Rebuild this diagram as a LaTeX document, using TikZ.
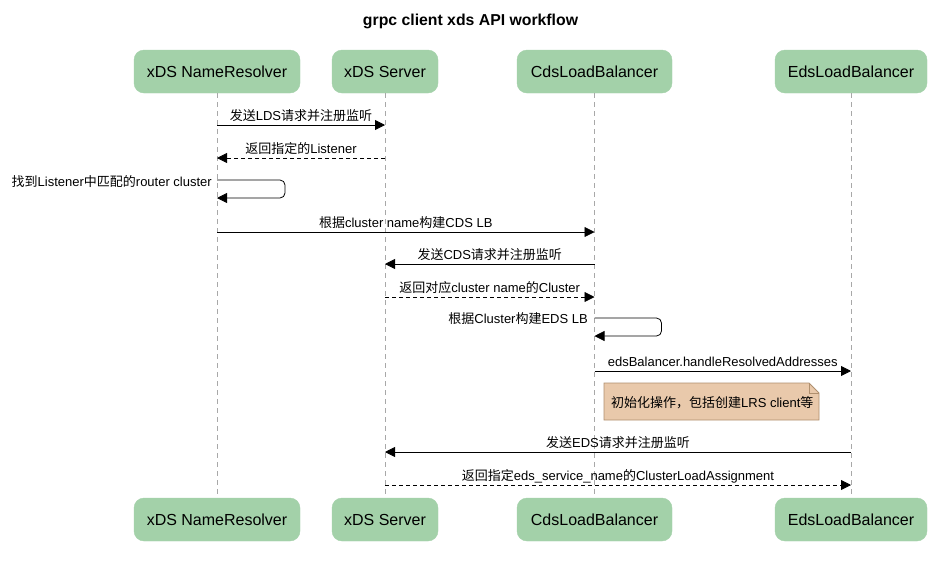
\documentclass[tikz,border=0pt]{standalone}
\usepackage{fontspec}
\setmainfont{Liberation Sans}
\newfontfamily\cjk{Noto Sans CJK SC}
\usetikzlibrary{arrows.meta,calc}
\newcommand\zh[1]{{\cjk #1}}
\definecolor{partfill}{HTML}{A3D1A9}
\definecolor{lifegray}{HTML}{A8A8A8}
\definecolor{notefill}{HTML}{E9C9AB}
\definecolor{noteline}{HTML}{B0906F}
\begin{document}
\begin{tikzpicture}[x=1pt,y=-1pt,
  part/.style={draw=partfill, fill=partfill, rounded corners=10pt, minimum height=43pt,
    font=\fontsize{16}{19}\selectfont, inner xsep=0pt, anchor=center},
  msg/.style={-{Triangle[length=10pt,width=10pt]}, line width=0.8pt},
  ret/.style={msg, dash pattern=on 4pt off 3pt},
  lbl/.style={font=\fontsize{13}{15}\selectfont, inner sep=0pt, anchor=base},
  life/.style={draw=lifegray, dash pattern=on 5pt off 4pt, line width=0.8pt},
  notebox/.style={fill=notefill, draw=noteline, line width=0.8pt}]
\useasboundingbox (0,0) rectangle (941,566);
\fill[white] (0,0) rectangle (941,566);
\node[font=\bfseries\fontsize{15.8}{19}\selectfont] (title) at (470.5,21) {grpc client xds API workflow};
% participants
\node[part, minimum width=166pt] (nrT) at (217,71.5) {xDS NameResolver};
\node[part, minimum width=106pt] (svT) at (385,71.5) {xDS Server};
\node[part, minimum width=155pt] (cdT) at (594.5,71.5) {CdsLoadBalancer};
\node[part, minimum width=152pt] (edT) at (851,71.5) {EdsLoadBalancer};
\node[part, minimum width=166pt] (nrB) at (217,519.5) {xDS NameResolver};
\node[part, minimum width=106pt] (svB) at (385,519.5) {xDS Server};
\node[part, minimum width=155pt] (cdB) at (594.5,519.5) {CdsLoadBalancer};
\node[part, minimum width=152pt] (edB) at (851,519.5) {EdsLoadBalancer};
% lifelines
\draw[life] (nrT.south) -- (nrB.north);
\draw[life] (svT.south) -- (svB.north);
\draw[life] (cdT.south) -- (cdB.north);
\draw[life] (edT.south) -- (edB.north);
% message end points
\coordinate (m1a) at (217,125); \coordinate (m1b) at (385,125);
\coordinate (m2a) at (385,158); \coordinate (m2b) at (217,158);
\coordinate (m3a) at (217,180); \coordinate (m3b) at (217,198);
\coordinate (m4a) at (217,232); \coordinate (m4b) at (594.5,232);
\coordinate (m5a) at (594.5,264); \coordinate (m5b) at (385,264);
\coordinate (m6a) at (385,297); \coordinate (m6b) at (594.5,297);
\coordinate (m7a) at (594.5,318); \coordinate (m7b) at (594.5,336);
\coordinate (m8a) at (594.5,371); \coordinate (m8b) at (851,371);
\coordinate (m10a) at (851,452); \coordinate (m10b) at (385,452);
\coordinate (m11a) at (385,485); \coordinate (m11b) at (851,485);
% messages
\draw[msg] (m1a) -- (m1b);
\node[lbl] (l1) at ($(m1a)!0.5!(m1b)+(0,-5)$) {\zh{发送}LDS\zh{请求并注册监听}};
\draw[ret] (m2a) -- (m2b);
\node[lbl] (l2) at ($(m2a)!0.5!(m2b)+(0,-5)$) {\zh{返回指定的}Listener};
\draw[msg, rounded corners=5pt] (m3a) -- ++(68,0) -- ++(0,18) -- (m3b);
\node[lbl, anchor=base east] (l3) at (212,186) {\zh{找到}Listener\zh{中匹配的}router cluster};
\draw[msg] (m4a) -- (m4b);
\node[lbl] (l4) at ($(m4a)!0.5!(m4b)+(0,-5)$) {\zh{根据}cluster name\zh{构建}CDS LB};
\draw[msg] (m5a) -- (m5b);
\node[lbl] (l5) at ($(m5a)!0.5!(m5b)+(0,-5)$) {\zh{发送}CDS\zh{请求并注册监听}};
\draw[ret] (m6a) -- (m6b);
\node[lbl] (l6) at ($(m6a)!0.5!(m6b)+(0,-5)$) {\zh{返回对应}cluster name\zh{的}Cluster};
\draw[msg, rounded corners=5pt] (m7a) -- ++(67,0) -- ++(0,18) -- (m7b);
\node[lbl, anchor=base east] (l7) at (588,323) {\zh{根据}Cluster\zh{构建}EDS LB};
\draw[msg] (m8a) -- (m8b);
\node[lbl] (l8) at ($(m8a)!0.5!(m8b)+(0,-5)$) {edsBalancer.handleResolvedAddresses};
% note
\draw[notebox] (604,383) -- (809,383) -- (819,393) -- (819,420) -- (604,420) -- cycle;
\draw[noteline, line width=0.8pt] (809,383) -- (809,393) -- (819,393);
\node[lbl, anchor=base west] (note) at (611,407) {\zh{初始化操作，包括创建}LRS client\zh{等}};
\draw[msg] (m10a) -- (m10b);
\node[lbl] (l10) at ($(m10a)!0.5!(m10b)+(0,-5)$) {\zh{发送}EDS\zh{请求并注册监听}};
\draw[ret] (m11a) -- (m11b);
\node[lbl] (l11) at ($(m11a)!0.5!(m11b)+(0,-5)$) {\zh{返回指定}eds\_service\_name\zh{的}ClusterLoadAssignment};
\end{tikzpicture}
\end{document}
